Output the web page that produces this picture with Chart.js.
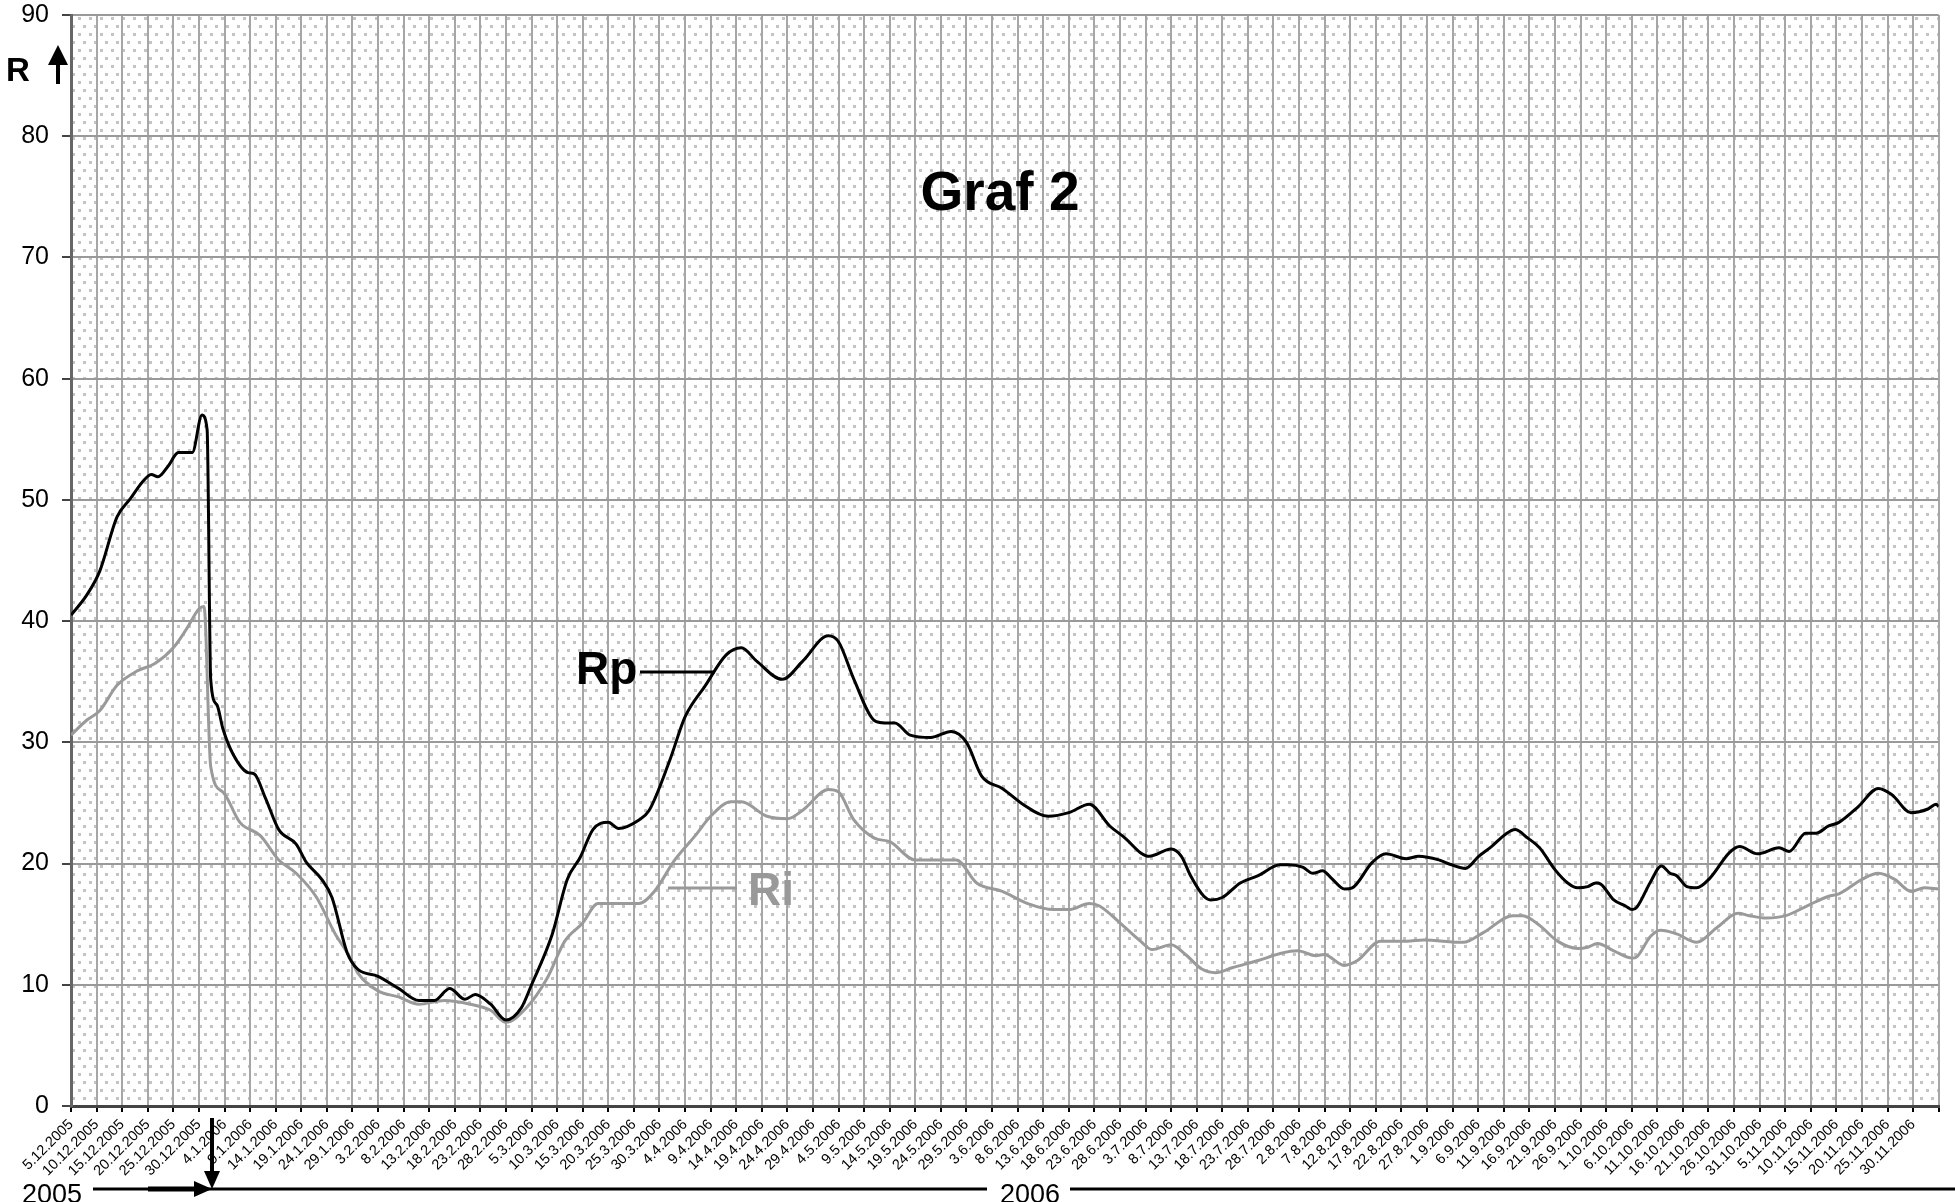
<!DOCTYPE html>
<html>
<head>
<meta charset="utf-8">
<title>Graf 2</title>
<script src="https://cdn.jsdelivr.net/npm/chart.js@4/dist/chart.umd.min.js"></script>
<style>
  html, body { margin: 0; padding: 0; background: #fff; }
  #chart { display: block; }
</style>
</head>
<body>
<canvas id="chart" width="1955" height="1202"></canvas>
<script>
// x = days since 5.12.2005, tick every 5 days
const tickLabels = [
  '5.12.2005', '10.12.2005', '15.12.2005', '20.12.2005', '25.12.2005', '30.12.2005',
  '4.1.2006', '9.1.2006', '14.1.2006', '19.1.2006', '24.1.2006', '29.1.2006',
  '3.2.2006', '8.2.2006', '13.2.2006', '18.2.2006', '23.2.2006', '28.2.2006',
  '5.3.2006', '10.3.2006', '15.3.2006', '20.3.2006', '25.3.2006', '30.3.2006',
  '4.4.2006', '9.4.2006', '14.4.2006', '19.4.2006', '24.4.2006', '29.4.2006',
  '4.5.2006', '9.5.2006', '14.5.2006', '19.5.2006', '24.5.2006', '29.5.2006',
  '3.6.2006', '8.6.2006', '13.6.2006', '18.6.2006', '23.6.2006', '28.6.2006',
  '3.7.2006', '8.7.2006', '13.7.2006', '18.7.2006', '23.7.2006', '28.7.2006',
  '2.8.2006', '7.8.2006', '12.8.2006', '17.8.2006', '22.8.2006', '27.8.2006',
  '1.9.2006', '6.9.2006', '11.9.2006', '16.9.2006', '21.9.2006', '26.9.2006',
  '1.10.2006', '6.10.2006', '11.10.2006', '16.10.2006', '21.10.2006', '26.10.2006',
  '31.10.2006', '5.11.2006', '10.11.2006', '15.11.2006', '20.11.2006', '25.11.2006',
  '30.11.2006'
];

const rpDays = [0, 3, 5.6, 9, 11.6, 14, 15.7, 17, 19, 21, 23.7, 25.6, 26.6, 27.3, 28.5, 29.7, 31.7, 34.6, 35.8, 38, 40.6, 44, 46, 49, 51, 54, 56, 60, 64, 68, 71, 74, 77, 79, 82, 85, 88, 90, 94, 97, 99.5, 102, 105, 107, 111, 113, 117, 120, 124, 128, 131, 134, 139, 143, 148, 150, 153, 157, 159, 161, 164, 168, 172, 175, 178, 182, 186, 191, 195, 199, 203, 206,
  209, 210.7, 215, 217, 218.8, 221.4, 222.7, 225, 228.5, 232, 236.3, 237.8, 240.7, 242.7, 244.6, 246.3, 248.9, 250.4, 254.3, 257, 260.9, 263.4, 267.3, 269.8, 272.5, 275.1, 277.6, 280.3, 282.2, 284.7,
  287, 290, 292.5, 294.4, 296.4, 298, 299, 301.5, 303.8, 305.1, 306, 308.7, 310.8, 312.5, 313.8, 315.8, 317.7, 320.3, 324.1, 326.1, 329.6, 333.8, 335.8, 339, 341, 343.5, 345.5, 349.3, 353.2, 355.8, 359.6, 362.9, 364.5, 365];
const rpValues = [40.5, 42.1, 44.1, 48.6, 50.1, 51.5, 52.1, 51.9, 52.8, 53.9, 53.9, 57.0, 55.8, 35.2, 33.1, 31.1, 29.0, 27.5, 27.4, 25.4, 22.8, 21.6, 20.1, 18.7, 17.2, 12.6, 11.3, 10.7, 9.7, 8.7, 8.7, 9.7, 8.8, 9.2, 8.4, 7.1, 8.1, 10.0, 14.1, 18.7, 20.5, 22.8, 23.4, 22.9, 23.6, 24.4, 28.5, 32.1, 34.7, 37.2, 37.8, 36.7, 35.2, 36.7, 38.8, 38.3, 35.2, 31.8, 31.6, 31.6, 30.6, 30.4, 30.9, 30.0, 27.2, 26.2, 24.9, 23.9, 24.2, 24.9, 23.1, 22.1,
  20.9, 20.6, 21.2, 20.6, 19.0, 17.3, 17.0, 17.2, 18.4, 19.0, 19.9, 19.9, 19.7, 19.2, 19.4, 18.8, 17.9, 18.0, 20.1, 20.8, 20.4, 20.6, 20.3, 19.9, 19.6, 20.6, 21.4, 22.4, 22.8, 22.1,
  21.3, 19.5, 18.4, 18.0, 18.1, 18.4, 18.3, 17.0, 16.5, 16.2, 16.4, 18.5, 19.8, 19.2, 19.0, 18.1, 18.0, 18.8, 20.9, 21.4, 20.8, 21.3, 21.0, 22.5, 22.5, 23.1, 23.4, 24.7, 26.2, 25.7, 24.2, 24.5, 24.9, 24.7];

const riDays = [0, 3, 5.6, 9, 13, 16.4, 20, 22.5, 25, 26, 27.3, 29.7, 33, 37, 40.6, 44, 48, 51.5, 54.6, 56, 60, 64, 68, 73, 78, 82, 85, 89, 93, 96.5, 100, 103, 107, 111, 114, 118, 122, 125, 129, 131, 136, 140, 143, 148, 150, 153, 157, 160, 165, 170, 173, 177, 182, 187, 192, 195, 199, 201, 205,
  209, 211.3, 215, 217.8, 221, 223.7, 226.9, 232, 236.5, 239.7, 243.3, 244.9, 248.8, 251.4, 255.9, 261.1, 264.3, 272.1, 276, 281.8, 283.7,
  287, 290.5, 294.4, 296.4, 298.3, 301.5, 305.1, 306, 308.7, 310.6, 313.8, 317.7, 321.6, 325.8, 328, 331.3, 335.1, 339.7, 343.5, 345.5, 350, 353.2, 356.4, 359.6, 362.2, 365];
const riValues = [30.6, 31.8, 32.6, 34.7, 35.9, 36.5, 37.8, 39.3, 41.0, 41.2, 28.0, 25.9, 23.4, 22.3, 20.3, 19.2, 17.2, 14.3, 12.2, 11.0, 9.5, 9.0, 8.4, 8.7, 8.4, 7.9, 6.9, 8.1, 10.5, 13.6, 15.1, 16.7, 16.7, 16.7, 17.7, 20.3, 22.3, 23.9, 25.1, 25.1, 23.9, 23.7, 24.4, 26.1, 25.9, 23.6, 22.1, 21.8, 20.3, 20.3, 20.3, 18.4, 17.7, 16.7, 16.2, 16.2, 16.7, 16.5, 15.1,
  13.6, 12.9, 13.3, 12.5, 11.3, 11.0, 11.4, 12.0, 12.6, 12.8, 12.4, 12.5, 11.6, 12.0, 13.6, 13.6, 13.7, 13.5, 14.3, 15.7, 15.7,
  14.9, 13.6, 13.0, 13.1, 13.4, 12.8, 12.2, 12.3, 14.0, 14.5, 14.2, 13.5, 14.7, 15.9, 15.7, 15.5, 15.7, 16.6, 17.3, 17.5, 18.7, 19.2, 18.7, 17.7, 18.0, 17.9];

const FONT = '"Liberation Sans", Arial, sans-serif';

function toPoints(days, values) {
  return days.map((d, i) => ({ x: d, y: values[i] }));
}

function arrow(ctx, x1, y1, x2, y2, width, head, headW) {
  const a = Math.atan2(y2 - y1, x2 - x1);
  const c = Math.cos(a), s = Math.sin(a);
  ctx.save();
  ctx.strokeStyle = '#000';
  ctx.fillStyle = '#000';
  ctx.lineWidth = width;
  ctx.beginPath();
  ctx.moveTo(x1, y1);
  ctx.lineTo(x2 - c * head * 0.8, y2 - s * head * 0.8);
  ctx.stroke();
  ctx.beginPath();
  ctx.moveTo(x2, y2);
  ctx.lineTo(x2 - c * head + s * headW / 2, y2 - s * head - c * headW / 2);
  ctx.lineTo(x2 - c * head - s * headW / 2, y2 - s * head + c * headW / 2);
  ctx.closePath();
  ctx.fill();
  ctx.restore();
}

// dotted fill of the plot area
function makePattern(ctx) {
  const tile = document.createElement('canvas');
  tile.width = 11;
  tile.height = 16;
  const t = tile.getContext('2d');
  t.fillStyle = '#fff';
  t.fillRect(0, 0, 11, 16);
  t.fillStyle = '#c4c4c4';
  t.fillRect(1, 1, 3, 3);
  t.fillRect(6, 9, 3, 3);
  return ctx.createPattern(tile, 'repeat');
}

const decorPlugin = {
  id: 'decor',
  beforeDraw(chart) {
    const { ctx, chartArea } = chart;
    ctx.save();
    ctx.fillStyle = makePattern(ctx);
    ctx.fillRect(chartArea.left, chartArea.top, chartArea.right - chartArea.left, chartArea.bottom - chartArea.top);
    ctx.restore();
  },
  afterDraw(chart) {
    const { ctx } = chart;
    ctx.save();
    ctx.textBaseline = 'alphabetic';

    // title
    ctx.fillStyle = '#000';
    ctx.font = 'bold 55px ' + FONT;
    ctx.textAlign = 'center';
    ctx.fillText('Graf 2', 1000, 210);

    // R axis name with arrow
    ctx.font = 'bold 33px ' + FONT;
    ctx.textAlign = 'left';
    ctx.fillText('R', 6, 81);
    arrow(ctx, 58, 84, 58, 45, 4, 20, 20);

    // series labels
    ctx.font = 'bold 46px ' + FONT;
    ctx.fillText('Rp', 576, 684);
    ctx.lineWidth = 3;
    ctx.strokeStyle = '#000';
    ctx.beginPath();
    ctx.moveTo(640, 672);
    ctx.lineTo(715, 672);
    ctx.stroke();

    ctx.fillStyle = '#999';
    ctx.strokeStyle = '#999';
    ctx.fillText('Ri', 748, 905);
    ctx.beginPath();
    ctx.moveTo(668, 888);
    ctx.lineTo(737, 888);
    ctx.stroke();

    // year line
    ctx.fillStyle = '#000';
    ctx.strokeStyle = '#000';
    ctx.font = '27px ' + FONT;
    ctx.fillText('2005', 22, 1203);
    ctx.fillText('2006', 1000, 1203);
    ctx.lineWidth = 3;
    ctx.beginPath();
    ctx.moveTo(93, 1189);
    ctx.lineTo(987, 1189);
    ctx.moveTo(1070, 1189);
    ctx.lineTo(1955, 1189);
    ctx.stroke();
    arrow(ctx, 148, 1189, 212, 1189, 5, 18, 16);
    arrow(ctx, 212, 1118, 212, 1189, 4, 18, 16);
    ctx.restore();
  }
};

new Chart(document.getElementById('chart'), {
  type: 'line',
  data: {
    datasets: [
      {
        label: 'Rp',
        data: toPoints(rpDays, rpValues),
        borderColor: '#000',
        borderWidth: 3,
        pointRadius: 0,
        cubicInterpolationMode: 'monotone'
      },
      {
        label: 'Ri',
        data: toPoints(riDays, riValues),
        borderColor: '#9a9a9a',
        borderWidth: 3,
        pointRadius: 0,
        cubicInterpolationMode: 'monotone'
      }
    ]
  },
  options: {
    responsive: false,
    animation: false,
    layout: { padding: { top: 15, right: 1, left: 0, bottom: 0 } },
    plugins: {
      legend: { display: false },
      tooltip: { enabled: false }
    },
    scales: {
      x: {
        type: 'linear',
        min: 0,
        max: 365,
        afterFit(scale) { scale.height = 96; },
        border: { color: '#444', width: 3 },
        grid: { color: '#a6a6a6', lineWidth: 2, tickLength: 6, tickColor: '#000' },
        ticks: {
          stepSize: 5,
          autoSkip: false,
          maxRotation: 45,
          minRotation: 45,
          padding: 4,
          color: '#000',
          font: { family: FONT, size: 14.5 },
          callback: (v) => tickLabels[v / 5] || ''
        }
      },
      y: {
        min: 0,
        max: 90,
        afterFit(scale) { scale.width = 71; },
        border: { color: '#666', width: 3 },
        grid: { color: '#999', lineWidth: 2, tickLength: 9, tickColor: '#444' },
        ticks: {
          stepSize: 10,
          padding: 13,
          color: '#000',
          // small lineHeight keeps the label padding from pushing the plot down
          font: { family: FONT, size: 25, lineHeight: 0.1 }
        }
      }
    }
  },
  plugins: [decorPlugin]
});
</script>
</body>
</html>
